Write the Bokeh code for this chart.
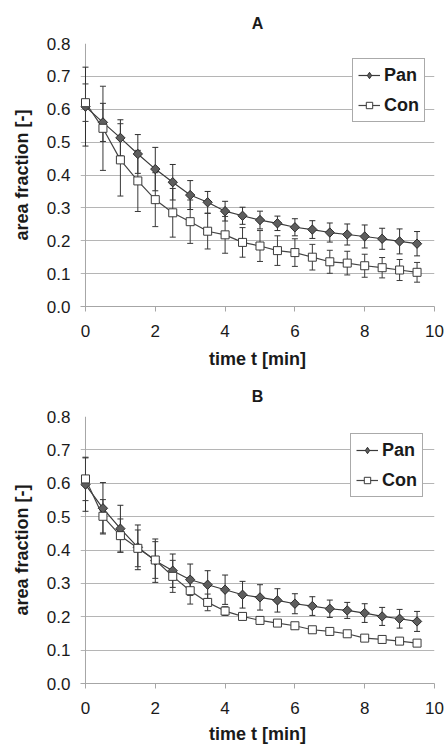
import math
from bokeh.plotting import figure
from bokeh.models import (ColumnDataSource, Whisker, TeeHead, FixedTicker,
                          Legend, LegendItem, NumeralTickFormatter, Span)
from bokeh.layouts import column
from bokeh.embed import file_html
from bokeh.resources import INLINE

# ---------------- data ----------------
time_min = [0.0, 0.5, 1.0, 1.5, 2.0, 2.5, 3.0, 3.5, 4.0, 4.5,
            5.0, 5.5, 6.0, 6.5, 7.0, 7.5, 8.0, 8.5, 9.0, 9.5]

a_pan = [0.608, 0.560, 0.513, 0.464, 0.418, 0.378, 0.339, 0.317, 0.290, 0.276,
         0.263, 0.253, 0.241, 0.234, 0.225, 0.219, 0.213, 0.206, 0.198, 0.191]
a_pan_err = [0.120, 0.058, 0.055, 0.059, 0.066, 0.054, 0.044, 0.033, 0.030, 0.026,
             0.027, 0.022, 0.026, 0.027, 0.029, 0.032, 0.035, 0.032, 0.038, 0.037]
a_con = [0.620, 0.542, 0.446, 0.382, 0.325, 0.285, 0.258, 0.229, 0.218, 0.195,
         0.184, 0.170, 0.164, 0.150, 0.136, 0.132, 0.124, 0.118, 0.111, 0.104]
a_con_err = [0.057, 0.128, 0.110, 0.093, 0.082, 0.074, 0.066, 0.054, 0.056, 0.045,
             0.047, 0.045, 0.042, 0.039, 0.035, 0.036, 0.035, 0.031, 0.032, 0.030]

b_pan = [0.596, 0.525, 0.464, 0.408, 0.368, 0.338, 0.311, 0.296, 0.281, 0.266,
         0.258, 0.249, 0.239, 0.232, 0.224, 0.219, 0.211, 0.201, 0.194, 0.186]
b_pan_err = [0.080, 0.077, 0.070, 0.067, 0.065, 0.050, 0.047, 0.042, 0.044, 0.040,
             0.038, 0.035, 0.030, 0.028, 0.026, 0.024, 0.028, 0.027, 0.028, 0.030]
b_con = [0.613, 0.501, 0.443, 0.405, 0.370, 0.321, 0.278, 0.243, 0.217, 0.201,
         0.189, 0.181, 0.173, 0.161, 0.156, 0.149, 0.136, 0.132, 0.127, 0.121]
b_con_err = [0.065, 0.050, 0.050, 0.055, 0.055, 0.048, 0.040, 0.025, 0.013, 0.010,
             0.008, 0.008, 0.008, 0.008, 0.008, 0.008, 0.008, 0.008, 0.008, 0.008]

x_ticks = [0, 2, 4, 6, 8, 10]
y_ticks = [0.0, 0.1, 0.2, 0.3, 0.4, 0.5, 0.6, 0.7, 0.8]

panel_titles = ["A", "B"]
series_names = ["Pan", "Con"]
x_label = "time t [min]"
y_label = "area fraction [-]"

FONT = "Liberation Sans"
TXT = "#1a1a1a"
AXC = "#a6a6a6"
GRIDC = "#b5b5b5"


def make_panel(title, pan, pan_err, con, con_err, height, mb_bottom, xl_standoff, legend_loc):
    # the frame starts a few pixels left of t=0 so that the first error bar is not clipped;
    # the horizontal grid lines reaching past t=0 play the role of the outward y ticks
    p = figure(width=448, height=height, x_range=(-0.143, 10), y_range=(0, 0.8),
               output_backend="svg", toolbar_location=None, title=title,
               min_border_left=80, min_border_right=14, min_border_top=43,
               min_border_bottom=mb_bottom)
    p.outline_line_color = None
    p.background_fill_color = "white"
    p.border_fill_color = "white"

    p.title.text_font = FONT
    p.title.text_font_size = "16px"
    p.title.text_font_style = "bold"
    p.title.text_color = TXT
    p.title.align = "center"
    p.title.standoff = 23

    p.xaxis.ticker = FixedTicker(ticks=x_ticks)
    p.yaxis.ticker = FixedTicker(ticks=y_ticks)
    p.yaxis.formatter = NumeralTickFormatter(format="0.0")
    for ax in (p.xaxis, p.yaxis):
        ax.axis_line_color = AXC
        ax.major_tick_line_color = AXC
        ax.major_tick_in = 0
        ax.major_tick_out = 5
        ax.minor_tick_line_color = None
        ax.major_label_text_font = FONT
        ax.major_label_text_font_size = "17px"
        ax.major_label_text_color = TXT
        ax.axis_label_text_font = FONT
        ax.axis_label_text_font_size = "18px"
        ax.axis_label_text_font_style = "bold"
        ax.axis_label_text_color = TXT
    p.yaxis.axis_line_color = None
    p.yaxis.major_tick_line_color = None
    p.yaxis.major_tick_out = 0
    p.xaxis.axis_label = x_label
    p.yaxis.axis_label = y_label
    p.xaxis.major_label_standoff = 13
    p.xaxis.axis_label_standoff = xl_standoff
    p.yaxis.major_label_standoff = 10
    p.yaxis.axis_label_standoff = 12

    p.xgrid.visible = False
    p.ygrid.grid_line_color = GRIDC
    p.ygrid.grid_line_width = 1

    # vertical axis line at t = 0
    p.add_layout(Span(location=0, dimension="height", line_color=AXC, line_width=1,
                      level="underlay"))

    src = ColumnDataSource(dict(
        t=time_min, pan=pan, con=con,
        pan_up=[v + e for v, e in zip(pan, pan_err)],
        pan_lo=[v - e for v, e in zip(pan, pan_err)],
        con_up=[v + e for v, e in zip(con, con_err)],
        con_lo=[v - e for v, e in zip(con, con_err)],
    ))

    for up, lo, col in (("pan_up", "pan_lo", "#2e2e2e"), ("con_up", "con_lo", "#3a3a3a")):
        w = Whisker(base="t", upper=up, lower=lo, source=src, dimension="height",
                    line_color=col, line_width=1, level="underlay",
                    upper_head=TeeHead(size=6, line_color=col, line_width=1),
                    lower_head=TeeHead(size=6, line_color=col, line_width=1))
        p.add_layout(w)

    pan_line = p.line("t", "pan", source=src, line_color="#3a3a3a", line_width=1.2)
    con_line = p.line("t", "con", source=src, line_color="#444444", line_width=1.2)
    # narrow diamond (hidden under the rotated squares) serves as the legend swatch
    pan_key = p.scatter("t", "pan", source=src, marker="diamond", size=8.5,
                        fill_color="#5e5e5e", line_color="#2e2e2e", line_width=1)
    p.scatter("t", "pan", source=src, marker="square", angle=math.pi / 4,
              size=6.6, fill_color="#5e5e5e", line_color="#2e2e2e", line_width=1)
    con_pts = p.scatter("t", "con", source=src, marker="square", size=8,
                        fill_color="white", line_color="#3a3a3a", line_width=1)

    legend = Legend(items=[LegendItem(label=series_names[0], renderers=[pan_line, pan_key]),
                           LegendItem(label=series_names[1], renderers=[con_line, con_pts])],
                    location=legend_loc)
    legend.border_line_color = "#555555"
    legend.border_line_width = 1
    legend.background_fill_color = "white"
    legend.background_fill_alpha = 1
    legend.padding = 5
    legend.spacing = 8
    legend.margin = 0
    legend.glyph_width = 22
    legend.glyph_height = 16
    legend.label_height = 22
    legend.label_standoff = 4
    legend.label_text_font = FONT
    legend.label_text_font_size = "18px"
    legend.label_text_font_style = "bold"
    legend.label_text_color = TXT
    p.add_layout(legend)
    return p


pa = make_panel(panel_titles[0], a_pan, a_pan_err, a_con, a_con_err, 373, 67, 9, (272, 184))
pb = make_panel(panel_titles[1], b_pan, b_pan_err, b_con, b_con_err, 374, 64, 7, (270, 186))

layout = column(pa, pb, spacing=0)
open("out.html", "w").write(file_html(layout, INLINE))
